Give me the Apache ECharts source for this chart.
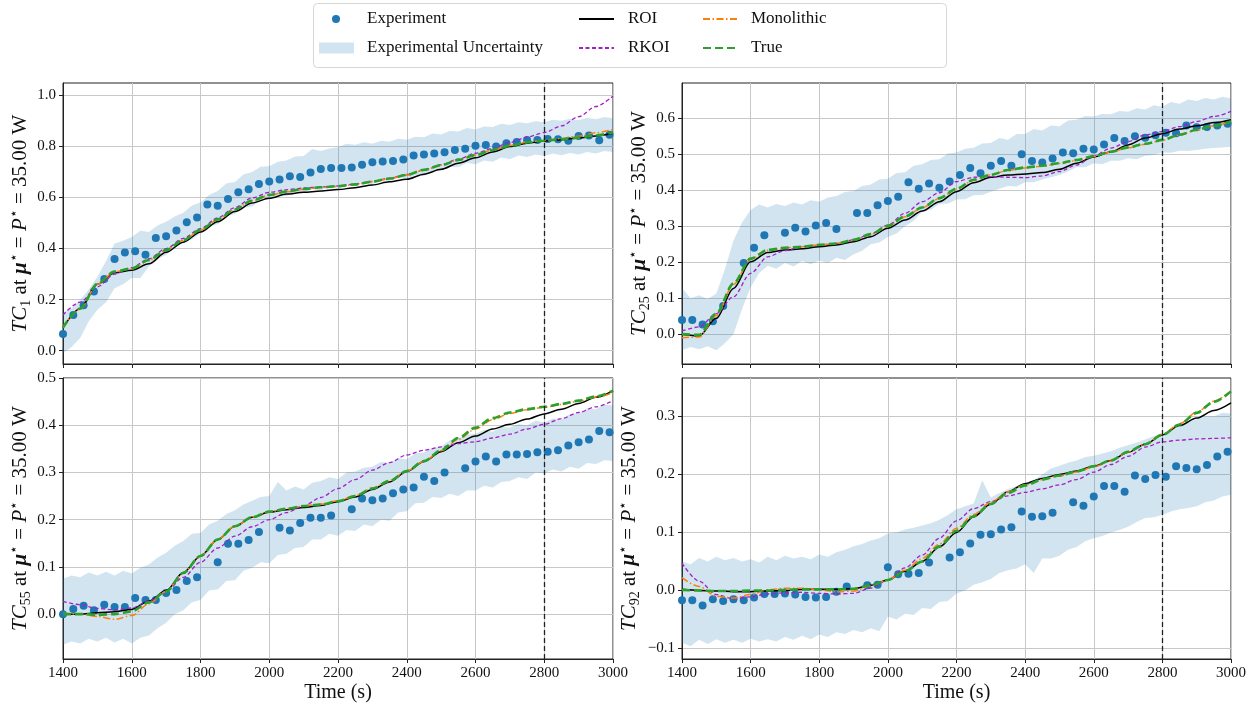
<!DOCTYPE html>
<html>
<head>
<meta charset="utf-8">
<script src="https://cdn.jsdelivr.net/npm/echarts@6/dist/echarts.min.js"></script>
<style>
    html, body { margin: 0; padding: 0; background: #fff; }
    #chart { width: 1255px; height: 711px; }
</style>
</head>
<body>
<div id="chart"></div>
<script>
// sample times of the measured points (s)
const expTimes = [1400, 1430, 1460, 1490, 1520, 1550, 1580, 1610, 1640, 1670, 1700, 1730, 1760, 1790, 1820, 1850, 1880, 1910,
    1940, 1970, 2000, 2030, 2060, 2090, 2120, 2150, 2180, 2210, 2240, 2270, 2300, 2330, 2360, 2390, 2420, 2450, 2480, 2510,
    2540, 2570, 2600, 2630, 2660, 2690, 2720, 2750, 2780, 2810, 2840, 2870, 2900, 2930, 2960, 2990];
// times of the model curves (s)
const curveTimes = [1400, 1450, 1500, 1550, 1600, 1650, 1700, 1750, 1800, 1850, 1900, 1950, 2000, 2050, 2100, 2150, 2200,
    2250, 2300, 2350, 2400, 2450, 2500, 2550, 2600, 2650, 2700, 2750, 2800, 2850, 2900, 2950, 3000];
// times of the uncertainty band edges (s)
const bandTimes = [1400, 1425, 1450, 1475, 1500, 1525, 1550, 1575, 1600, 1625, 1650, 1675, 1700, 1725, 1750, 1775, 1800,
    1825, 1850, 1875, 1900, 1925, 1950, 1975, 2000, 2025, 2050, 2075, 2100, 2125, 2150, 2175, 2200, 2225, 2250, 2275, 2300,
    2325, 2350, 2375, 2400, 2425, 2450, 2475, 2500, 2525, 2550, 2575, 2600, 2625, 2650, 2675, 2700, 2725, 2750, 2775, 2800,
    2825, 2850, 2875, 2900, 2925, 2950, 2975, 3000];

// TC1
const exp1 = [0.065, 0.14, 0.178, 0.232, 0.281, 0.359, 0.384, 0.389, 0.376, 0.441, 0.448, 0.471, 0.503, 0.521, 0.572, 0.567,
    0.594, 0.62, 0.632, 0.653, 0.662, 0.67, 0.683, 0.68, 0.698, 0.711, 0.715, 0.715, 0.717, 0.728, 0.738, 0.741, 0.743, 0.749,
    0.764, 0.768, 0.772, 0.777, 0.786, 0.791, 0.802, 0.805, 0.799, 0.812, 0.817, 0.825, 0.825, 0.829, 0.828, 0.822, 0.841,
    0.842, 0.824, 0.845];
const lower1 = [-0.01, 0.015, 0.05, 0.115, 0.16, 0.19, 0.245, 0.26, 0.285, 0.285, 0.33, 0.36, 0.375, 0.405, 0.425, 0.435,
    0.46, 0.485, 0.495, 0.525, 0.535, 0.56, 0.565, 0.59, 0.595, 0.608, 0.605, 0.622, 0.618, 0.632, 0.628, 0.64, 0.636, 0.648,
    0.644, 0.656, 0.652, 0.668, 0.664, 0.678, 0.672, 0.688, 0.684, 0.702, 0.704, 0.72, 0.718, 0.735, 0.73, 0.745, 0.74, 0.756,
    0.75, 0.764, 0.758, 0.768, 0.762, 0.772, 0.765, 0.774, 0.768, 0.778, 0.772, 0.782, 0.778];
const upper1 = [0.15, 0.165, 0.2, 0.24, 0.29, 0.35, 0.42, 0.43, 0.445, 0.47, 0.465, 0.49, 0.505, 0.525, 0.54, 0.568, 0.58,
    0.61, 0.625, 0.655, 0.66, 0.69, 0.7, 0.72, 0.722, 0.74, 0.745, 0.76, 0.762, 0.79, 0.782, 0.792, 0.796, 0.81, 0.806, 0.816,
    0.81, 0.822, 0.818, 0.83, 0.826, 0.838, 0.836, 0.85, 0.846, 0.86, 0.858, 0.872, 0.866, 0.878, 0.876, 0.888, 0.884, 0.894,
    0.89, 0.898, 0.894, 0.904, 0.9, 0.908, 0.902, 0.912, 0.906, 0.915, 0.91];
const roi1 = [0.09, 0.165, 0.26, 0.305, 0.315, 0.34, 0.385, 0.425, 0.465, 0.505, 0.545, 0.578, 0.597, 0.613, 0.62, 0.625,
    0.631, 0.638, 0.649, 0.661, 0.671, 0.691, 0.71, 0.734, 0.755, 0.778, 0.799, 0.812, 0.821, 0.826, 0.833, 0.841, 0.851];
const rkoi1 = [0.14, 0.19, 0.25, 0.3, 0.325, 0.36, 0.4, 0.44, 0.478, 0.52, 0.56, 0.598, 0.62, 0.63, 0.637, 0.641, 0.645,
    0.652, 0.663, 0.675, 0.69, 0.708, 0.728, 0.75, 0.773, 0.792, 0.815, 0.836, 0.854, 0.88, 0.916, 0.956, 0.997];
const mono1 = [0.09, 0.163, 0.26, 0.309, 0.321, 0.354, 0.393, 0.432, 0.472, 0.513, 0.552, 0.587, 0.609, 0.622, 0.632, 0.639,
    0.643, 0.65, 0.661, 0.673, 0.687, 0.707, 0.726, 0.747, 0.766, 0.786, 0.803, 0.816, 0.824, 0.831, 0.84, 0.853, 0.866];
const true1 = [0.091, 0.165, 0.262, 0.31, 0.322, 0.355, 0.394, 0.433, 0.473, 0.514, 0.553, 0.588, 0.61, 0.623, 0.633, 0.64,
    0.644, 0.651, 0.662, 0.674, 0.688, 0.708, 0.726, 0.747, 0.766, 0.786, 0.802, 0.815, 0.822, 0.828, 0.834, 0.843, 0.854];

// TC25
const exp25 = [0.039, 0.039, 0.027, 0.036, 0.078, null, 0.198, 0.24, 0.275, null, 0.282, 0.296, 0.285, 0.302, 0.309, 0.292,
    null, 0.337, 0.337, 0.358, 0.37, 0.382, 0.422, 0.404, 0.419, 0.407, 0.424, 0.442, 0.462, 0.447, 0.468, 0.481, 0.468, 0.5,
    0.481, 0.477, 0.488, 0.505, 0.503, 0.515, 0.513, 0.527, 0.545, 0.537, 0.55, 0.546, 0.553, 0.56, 0.558, 0.58, 0.575, 0.576,
    0.58, 0.585];
const lower25 = [-0.045, -0.036, -0.042, -0.034, -0.045, -0.025, 0.0, 0.07, 0.13, 0.17, 0.19, 0.182, 0.198, 0.188, 0.203,
    0.194, 0.205, 0.198, 0.212, 0.206, 0.222, 0.232, 0.25, 0.255, 0.27, 0.28, 0.3, 0.315, 0.34, 0.346, 0.362, 0.363, 0.374,
    0.375, 0.386, 0.387, 0.396, 0.404, 0.412, 0.41, 0.422, 0.422, 0.43, 0.436, 0.442, 0.452, 0.464, 0.464, 0.475, 0.472, 0.482,
    0.482, 0.489, 0.486, 0.496, 0.498, 0.505, 0.504, 0.51, 0.509, 0.512, 0.515, 0.517, 0.519, 0.521];
const upper25 = [0.128, 0.1, 0.108, 0.098, 0.113, 0.18, 0.26, 0.31, 0.345, 0.36, 0.352, 0.362, 0.356, 0.366, 0.36, 0.372,
    0.368, 0.38, 0.384, 0.395, 0.398, 0.412, 0.416, 0.43, 0.432, 0.448, 0.45, 0.468, 0.472, 0.484, 0.486, 0.502, 0.505, 0.515,
    0.518, 0.53, 0.531, 0.545, 0.54, 0.556, 0.556, 0.57, 0.566, 0.58, 0.578, 0.594, 0.596, 0.606, 0.605, 0.612, 0.611, 0.62,
    0.618, 0.628, 0.624, 0.636, 0.632, 0.645, 0.64, 0.652, 0.648, 0.656, 0.652, 0.66, 0.655];
const roi25 = [0.0, -0.005, 0.044, 0.127, 0.201, 0.227, 0.234, 0.237, 0.243, 0.248, 0.257, 0.271, 0.294, 0.317, 0.342, 0.368,
    0.396, 0.421, 0.436, 0.442, 0.445, 0.449, 0.458, 0.475, 0.492, 0.507, 0.526, 0.545, 0.557, 0.57, 0.579, 0.588, 0.596];
const rkoi25 = [0.009, 0.02, 0.057, 0.104, 0.169, 0.215, 0.232, 0.243, 0.248, 0.252, 0.262, 0.278, 0.303, 0.336, 0.368, 0.393,
    0.424, 0.436, 0.438, 0.436, 0.435, 0.44, 0.452, 0.47, 0.495, 0.517, 0.535, 0.554, 0.563, 0.577, 0.591, 0.605, 0.619];
const mono25 = [-0.01, -0.008, 0.052, 0.138, 0.208, 0.233, 0.24, 0.243, 0.248, 0.252, 0.261, 0.277, 0.3, 0.326, 0.351, 0.377,
    0.403, 0.428, 0.443, 0.455, 0.462, 0.467, 0.474, 0.483, 0.494, 0.506, 0.518, 0.528, 0.539, 0.553, 0.567, 0.579, 0.592];
const true25 = [0.0, -0.002, 0.057, 0.141, 0.21, 0.234, 0.24, 0.243, 0.248, 0.252, 0.262, 0.278, 0.301, 0.327, 0.352, 0.378,
    0.404, 0.429, 0.443, 0.456, 0.463, 0.468, 0.475, 0.484, 0.495, 0.507, 0.519, 0.529, 0.54, 0.554, 0.568, 0.579, 0.591];

// TC55
const exp55 = [0.0, 0.011, 0.018, 0.008, 0.02, 0.015, 0.015, 0.034, 0.03, 0.03, 0.045, 0.051, 0.07, 0.078, null, 0.11, 0.149,
    0.149, 0.157, 0.174, null, 0.183, 0.177, 0.193, 0.204, 0.204, 0.209, null, 0.222, 0.245, 0.241, 0.245, 0.256, 0.264, 0.268,
    0.291, 0.282, 0.3, null, 0.309, 0.323, 0.334, 0.323, 0.338, 0.338, 0.339, 0.343, 0.344, 0.347, 0.357, 0.364, 0.37, 0.388,
    0.385];
const lower55 = [-0.065, -0.058, -0.062, -0.052, -0.058, -0.05, -0.06, -0.052, -0.062, -0.05, -0.045, -0.03, -0.018, 0.0,
    0.008, 0.025, 0.03, 0.05, 0.052, 0.07, 0.072, 0.092, 0.098, 0.11, 0.108, 0.125, 0.128, 0.14, 0.142, 0.158, 0.158, 0.17,
    0.166, 0.178, 0.176, 0.19, 0.186, 0.2, 0.198, 0.215, 0.218, 0.235, 0.236, 0.248, 0.246, 0.255, 0.25, 0.262, 0.262, 0.272,
    0.268, 0.28, 0.282, 0.29, 0.286, 0.3, 0.298, 0.306, 0.302, 0.312, 0.308, 0.32, 0.318, 0.326, 0.324];
const upper55 = [0.075, 0.082, 0.078, 0.088, 0.082, 0.09, 0.082, 0.092, 0.086, 0.098, 0.105, 0.12, 0.13, 0.145, 0.155, 0.17,
    0.172, 0.19, 0.198, 0.212, 0.22, 0.232, 0.24, 0.248, 0.25, 0.28, 0.262, 0.27, 0.264, 0.278, 0.282, 0.29, 0.286, 0.3, 0.302,
    0.31, 0.312, 0.322, 0.32, 0.33, 0.328, 0.34, 0.342, 0.352, 0.355, 0.368, 0.372, 0.38, 0.382, 0.39, 0.386, 0.396, 0.395,
    0.402, 0.4, 0.41, 0.405, 0.414, 0.412, 0.424, 0.425, 0.436, 0.434, 0.444, 0.442];
const roi55 = [0.0, 0.0, 0.003, 0.005, 0.01, 0.028, 0.05, 0.088, 0.123, 0.158, 0.186, 0.205, 0.216, 0.221, 0.226, 0.23, 0.238,
    0.248, 0.264, 0.28, 0.302, 0.323, 0.344, 0.363, 0.377, 0.392, 0.402, 0.413, 0.424, 0.434, 0.446, 0.459, 0.473];
const rkoi55 = [0.027, 0.02, 0.012, 0.009, 0.013, 0.028, 0.048, 0.078, 0.11, 0.14, 0.165, 0.185, 0.2, 0.215, 0.229, 0.247,
    0.266, 0.285, 0.305, 0.321, 0.337, 0.347, 0.354, 0.361, 0.365, 0.373, 0.381, 0.392, 0.402, 0.414, 0.427, 0.439, 0.452];
const mono55 = [0.002, 0.0, -0.005, -0.011, -0.003, 0.022, 0.048, 0.088, 0.124, 0.158, 0.186, 0.205, 0.217, 0.223, 0.229,
    0.233, 0.24, 0.251, 0.267, 0.283, 0.303, 0.324, 0.346, 0.37, 0.392, 0.412, 0.425, 0.433, 0.438, 0.444, 0.451, 0.459, 0.469];
const true55 = [0.0, 0.0, -0.001, 0.0, 0.006, 0.025, 0.048, 0.087, 0.123, 0.158, 0.186, 0.205, 0.217, 0.223, 0.229, 0.232,
    0.239, 0.25, 0.266, 0.282, 0.303, 0.324, 0.347, 0.373, 0.395, 0.415, 0.427, 0.434, 0.439, 0.445, 0.452, 0.461, 0.473];

// TC92
const exp92 = [-0.017, -0.017, -0.026, -0.015, -0.018, -0.015, -0.017, -0.012, -0.006, -0.006, -0.005, -0.007, -0.011, -0.012,
    -0.011, -0.002, 0.007, null, 0.009, 0.01, 0.04, 0.028, 0.029, 0.03, 0.048, null, 0.057, 0.066, 0.081, 0.096, 0.097, 0.105,
    0.109, 0.136, 0.127, 0.128, 0.134, null, 0.152, 0.146, 0.162, 0.18, 0.18, 0.17, 0.198, 0.192, 0.199, 0.196, 0.214, 0.211,
    0.209, 0.216, 0.231, 0.239];
const lower92 = [-0.09, -0.096, -0.085, -0.092, -0.084, -0.09, -0.085, -0.09, -0.083, -0.088, -0.084, -0.088, -0.08, -0.085,
    -0.078, -0.084, -0.076, -0.08, -0.072, -0.075, -0.068, -0.072, -0.065, -0.07, -0.045, -0.05, -0.04, -0.042, -0.03, -0.032,
    -0.02, -0.018, -0.005, 0.0, 0.01, 0.014, 0.02, 0.03, 0.035, 0.038, 0.045, 0.03, 0.055, 0.055, 0.06, 0.07, 0.075, 0.085,
    0.09, 0.094, 0.1, 0.104, 0.11, 0.118, 0.125, 0.126, 0.13, 0.136, 0.14, 0.142, 0.145, 0.152, 0.155, 0.162, 0.165];
const upper92 = [0.05, 0.045, 0.056, 0.05, 0.058, 0.052, 0.056, 0.05, 0.054, 0.048, 0.058, 0.052, 0.06, 0.055, 0.058, 0.054,
    0.062, 0.058, 0.066, 0.07, 0.076, 0.08, 0.086, 0.09, 0.098, 0.1, 0.105, 0.108, 0.112, 0.116, 0.122, 0.13, 0.14, 0.145, 0.15,
    0.19, 0.16, 0.168, 0.175, 0.18, 0.186, 0.19, 0.2, 0.21, 0.215, 0.22, 0.224, 0.23, 0.232, 0.236, 0.24, 0.246, 0.25, 0.255,
    0.26, 0.266, 0.27, 0.278, 0.285, 0.29, 0.295, 0.3, 0.3, 0.306, 0.305];
const roi92 = [0.002, 0.0, -0.001, -0.002, -0.002, -0.001, 0.0, 0.002, 0.002, 0.002, 0.003, 0.009, 0.018, 0.033, 0.05, 0.075,
    0.1, 0.127, 0.149, 0.17, 0.184, 0.193, 0.2, 0.206, 0.214, 0.224, 0.238, 0.252, 0.268, 0.284, 0.297, 0.31, 0.323];
const rkoi92 = [0.047, 0.016, -0.007, -0.014, -0.011, -0.006, -0.004, -0.003, -0.005, -0.006, -0.005, 0.004, 0.018, 0.039,
    0.061, 0.09, 0.12, 0.141, 0.153, 0.163, 0.169, 0.175, 0.182, 0.191, 0.204, 0.217, 0.231, 0.247, 0.256, 0.259, 0.261, 0.262,
    0.263];
const mono92 = [0.022, 0.007, -0.01, -0.013, -0.007, 0.001, 0.004, 0.004, 0.001, -0.002, -0.001, 0.008, 0.018, 0.035, 0.055,
    0.08, 0.107, 0.131, 0.152, 0.17, 0.182, 0.191, 0.197, 0.204, 0.213, 0.223, 0.238, 0.252, 0.269, 0.287, 0.307, 0.326, 0.344];
const true92 = [0.001, 0.0, -0.001, -0.001, 0.0, 0.0, 0.001, 0.002, 0.002, 0.002, 0.003, 0.009, 0.018, 0.033, 0.05, 0.076,
    0.103, 0.128, 0.149, 0.168, 0.181, 0.191, 0.198, 0.205, 0.214, 0.224, 0.239, 0.252, 0.268, 0.286, 0.306, 0.325, 0.343];

// tick values of the axes
const yTicks1 = [0.0, 0.2, 0.4, 0.6, 0.8, 1.0];
const yTicks25 = [0.0, 0.1, 0.2, 0.3, 0.4, 0.5, 0.6];
const yTicks55 = [0.0, 0.1, 0.2, 0.3, 0.4, 0.5];
const yTicks92 = [-0.1, 0.0, 0.1, 0.2, 0.3];
const xTicks = [1400, 1600, 1800, 2000, 2200, 2400, 2600, 2800, 3000];
const splitTime = 2800;

const SERIF = "'Liberation Serif', 'DejaVu Serif', serif";
const colors = {
    exp: '#1f77b4',
    band: 'rgba(31,119,180,0.2)',
    roi: '#000000',
    rkoi: '#a51ec8',
    mono: '#ff7f0e',
    truth: '#2ca02c'
};

const panels = [
    { tc: '1', exp: exp1, lower: lower1, upper: upper1, roi: roi1, rkoi: rkoi1, mono: mono1, truth: true1,
      ticks: yTicks1, min: -0.052, max: 1.048, grid: { left: 63, top: 83, width: 550, height: 281 }, nameGap: 29, bottom: false },
    { tc: '25', exp: exp25, lower: lower25, upper: upper25, roi: roi25, rkoi: rkoi25, mono: mono25, truth: true25,
      ticks: yTicks25, min: -0.083, max: 0.698, grid: { left: 682, top: 83, width: 549, height: 281 }, nameGap: 28, bottom: false },
    { tc: '55', exp: exp55, lower: lower55, upper: upper55, roi: roi55, rkoi: rkoi55, mono: mono55, truth: true55,
      ticks: yTicks55, min: -0.095, max: 0.5, grid: { left: 63, top: 378, width: 550, height: 281 }, nameGap: 29, bottom: true },
    { tc: '92', exp: exp92, lower: lower92, upper: upper92, roi: roi92, rkoi: rkoi92, mono: mono92, truth: true92,
      ticks: yTicks92, min: -0.118, max: 0.366, grid: { left: 682, top: 378, width: 549, height: 281 }, nameGap: 40, bottom: true }
];

function tickLabel(v) {
    return v < 0 ? '\u2212' + Math.abs(v).toFixed(1) : v.toFixed(1);
}

const grids = [];
const xAxes = [];
const yAxes = [];
const series = [];

panels.forEach((p, i) => {
    grids.push(Object.assign({ show: true, borderColor: '#222', borderWidth: 1, backgroundColor: 'transparent' }, p.grid));

    xAxes.push({
        type: 'value', gridIndex: i, min: 1400, max: 3000,
        name: p.bottom ? 'Time (s)' : '',
        nameLocation: 'middle', nameGap: 24,
        nameTextStyle: { fontFamily: SERIF, fontSize: 20, color: '#111' },
        axisLine: { show: true, onZero: false, lineStyle: { color: '#222', width: 1 } },
        axisTick: { show: true, inside: false, length: 4, customValues: xTicks, lineStyle: { color: '#222' } },
        axisLabel: { show: p.bottom, customValues: xTicks, margin: 7, fontFamily: SERIF, fontSize: 15, color: '#111',
            formatter: v => String(v) },
        splitLine: { show: true, lineStyle: { color: '#c8c8c8', width: 1 } }
    });

    yAxes.push({
        type: 'value', gridIndex: i, min: p.min, max: p.max,
        name: '{i|TC}{s|' + p.tc + '} at {b|\u03bc}{u|\u22c6} = {i|P}{u|\u22c6} = 35.00 W',
        nameLocation: 'middle', nameRotate: 90, nameGap: p.nameGap,
        nameTextStyle: {
            fontFamily: SERIF, fontSize: 21, color: '#111', lineHeight: 26,
            rich: {
                i: { fontFamily: SERIF, fontStyle: 'italic', fontSize: 21, lineHeight: 26, color: '#111' },
                s: { fontFamily: SERIF, fontSize: 14, lineHeight: 14, verticalAlign: 'bottom', color: '#111' },
                b: { fontFamily: SERIF, fontStyle: 'italic', fontWeight: 'bold', fontSize: 21, lineHeight: 26, color: '#111' },
                u: { fontFamily: SERIF, fontSize: 14, lineHeight: 14, verticalAlign: 'top', color: '#111' }
            }
        },
        axisLine: { show: true, onZero: false, lineStyle: { color: '#222', width: 1 } },
        axisTick: { show: true, inside: false, length: 4, customValues: p.ticks, lineStyle: { color: '#222' } },
        axisLabel: { customValues: p.ticks, margin: 7, fontFamily: SERIF, fontSize: 15, color: '#111', formatter: tickLabel },
        splitLine: { show: true, lineStyle: { color: '#c8c8c8', width: 1 } }
    });

    const lower = p.lower;
    const upper = p.upper;
    series.push({
        name: 'Experimental Uncertainty', type: 'custom', xAxisIndex: i, yAxisIndex: i, z: 1, silent: true,
        itemStyle: { color: colors.band },
        data: [[bandTimes[0], lower[0]]],
        renderItem: function (params, api) {
            const top = bandTimes.map((t, j) => api.coord([t, upper[j]]));
            const bot = bandTimes.map((t, j) => api.coord([t, lower[j]])).reverse();
            return { type: 'polygon', shape: { points: top.concat(bot) }, style: { fill: colors.band } };
        }
    });

    series.push({
        name: 'Experiment', type: 'scatter', xAxisIndex: i, yAxisIndex: i, z: 2, symbolSize: 8,
        itemStyle: { color: colors.exp, opacity: 1 },
        data: expTimes.map((t, j) => [t, p.exp[j]]).filter(d => d[1] !== null)
    });

    const lineDefs = [
        ['ROI', p.roi, colors.roi, 1.5, 'solid'],
        ['RKOI', p.rkoi, colors.rkoi, 1.3, [4, 2.5]],
        ['Monolithic', p.mono, colors.mono, 1.5, [7, 2.5, 1.5, 2.5]],
        ['True', p.truth, colors.truth, 2.6, [8, 4]]
    ];
    lineDefs.forEach(d => {
        const s = {
            name: d[0], type: 'line', xAxisIndex: i, yAxisIndex: i, z: 3,
            showSymbol: false, symbol: 'none', smooth: 0.3, smoothMonotone: 'x',
            itemStyle: { color: d[2] },
            lineStyle: { color: d[2], width: d[3], type: d[4] },
            data: curveTimes.map((t, j) => [t, d[1][j]])
        };
        if (d[0] === 'True') {
            s.markLine = {
                silent: true, symbol: ['none', 'none'], label: { show: false },
                lineStyle: { color: '#222', width: 1.3, type: [5, 3] },
                data: [{ xAxis: splitTime }]
            };
        }
        series.push(s);
    });
});

const legendText = { fontFamily: SERIF, fontSize: 17, color: '#111', lineHeight: 20 };
function legendAt(name, icon, left, top, w, h, pad) {
    const l = {
        data: [icon ? { name: name, icon: icon } : name], left: left, top: top, padding: 0,
        itemWidth: w, itemHeight: h, selectedMode: false,
        textStyle: Object.assign({ padding: [0, 0, 0, pad] }, legendText)
    };
    if (!icon) {
        // line entries: only the stroke, no marker
        l.itemStyle = { opacity: 0 };
    }
    return l;
}

const option = {
    animation: false,
    grid: grids,
    xAxis: xAxes,
    yAxis: yAxes,
    legend: [
        legendAt('Experiment', 'circle', 332, 9, 8, 8, 22),
        legendAt('Experimental Uncertainty', 'rect', 319, 38, 35, 11, 8),
        legendAt('ROI', null, 578, 9, 35, 14, 9),
        legendAt('RKOI', null, 578, 38, 35, 14, 9),
        legendAt('Monolithic', null, 702, 9, 35, 14, 8),
        legendAt('True', null, 702, 38, 35, 14, 8)
    ],
    graphic: [{
        type: 'rect', left: 313, top: 3, z: -1,
        shape: { width: 633, height: 64, r: 4 },
        style: { fill: '#fff', stroke: '#d6d6d6', lineWidth: 1 }
    }],
    series: series
};

echarts.init(document.getElementById('chart')).setOption(option);
</script>
</body>
</html>
